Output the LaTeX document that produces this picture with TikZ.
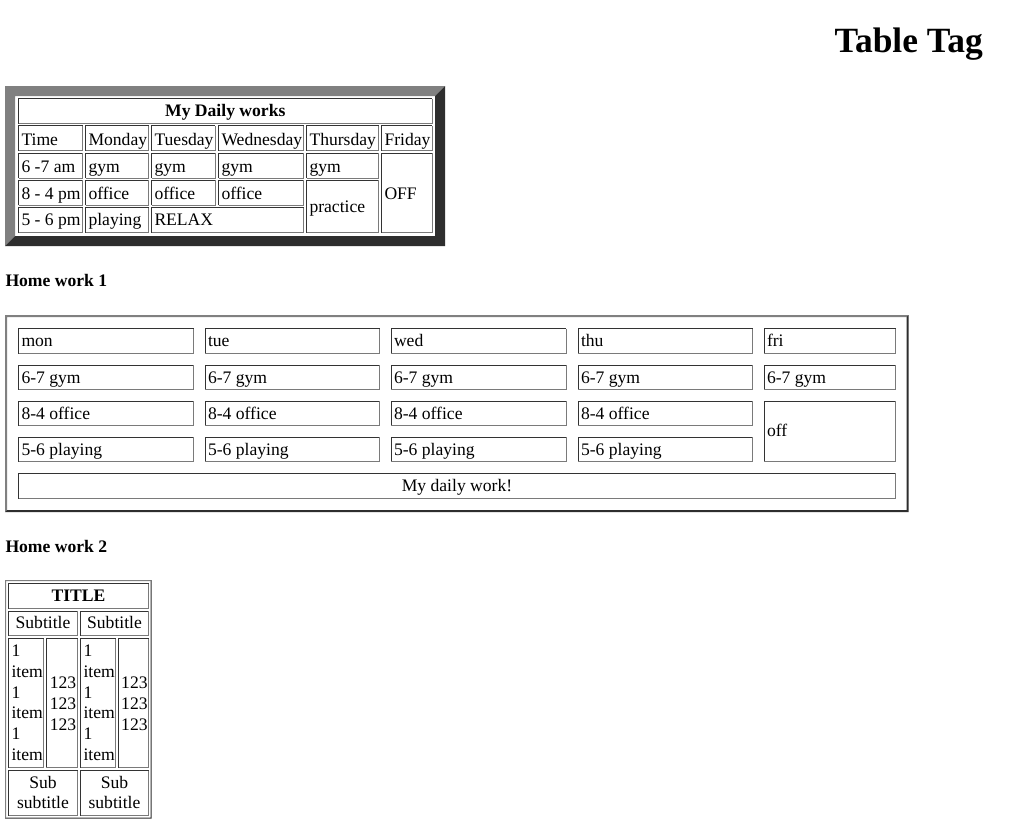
\documentclass[tikz,border=0pt]{standalone}
\usepackage{fontspec}
\setmainfont{Liberation Serif}
\definecolor{bdark}{HTML}{2E2E2E}
\definecolor{blight}{HTML}{808080}
\definecolor{cdark}{HTML}{333333}
\definecolor{clight}{HTML}{7A7A7A}
\newcommand\cellbox[4]{%
  \draw[cdark] (#1,#4) |- (#3,#2);
  \draw[clight] (#1,#4) -| (#3,#2);}
\newcommand\outsetbox[5]{%
  \fill[blight] (#1,#2) -- (#3,#2) -- ({#3-#5},{#2+#5}) -- ({#1+#5},{#2+#5}) -- ({#1+#5},{#4-#5}) -- (#1,#4) -- cycle;
  \fill[bdark] (#3,#2) -- (#3,#4) -- (#1,#4) -- ({#1+#5},{#4-#5}) -- ({#3-#5},{#4-#5}) -- ({#3-#5},{#2+#5}) -- cycle;}
\begin{document}
\begin{tikzpicture}[x=0.75pt,y=-0.75pt,line width=0.75pt,
  txt/.style={anchor=base west,inner sep=0pt,font=\fontsize{13.2}{15.5}\selectfont},
  ctxt/.style={txt,anchor=base},
  btxt/.style={ctxt,font=\fontsize{13.2}{15.5}\selectfont\bfseries},
  head/.style={txt,font=\fontsize{13.2}{15.5}\selectfont\bfseries}]
\useasboundingbox[fill=white] (0,0) rectangle (1033,828);

\node[anchor=base east,inner sep=0pt,font=\fontsize{26.6}{30}\selectfont\bfseries] (title) at (983.3,52.7) {Table Tag};

\outsetbox{5}{86}{445}{246}{10}
\cellbox{18.5}{98.5}{432}{123.5}
\node[btxt] (daily) at (225.3,116.7) {My Daily works};
\foreach \x/\xx/\dname [count=\i] in {18.5/82.5/Time,85.5/148.5/Monday,151.5/215/Tuesday,218.5/303.5/Wednesday,306.5/378.5/Thursday,381.5/432/Friday}{
  \cellbox{\x}{125.7}{\xx}{150.7}
  \node[txt] (day\i) at ({\x+2.5},145.7) {\dname};}
\foreach \x/\xx/\lbl [count=\i] in {18.5/82.5/6 -7 am,85.5/148.5/gym,151.5/215/gym,218.5/303.5/gym,306.5/378.5/gym}{
  \cellbox{\x}{153}{\xx}{178}
  \node[txt] (gym\i) at ({\x+2.5},172.3) {\lbl};}
\foreach \x/\xx/\lbl [count=\i] in {18.5/82.5/8 - 4 pm,85.5/148.5/office,151.5/215/office,218.5/303.5/office}{
  \cellbox{\x}{180.3}{\xx}{205.3}
  \node[txt] (office\i) at ({\x+2.5},199) {\lbl};}
\foreach \x/\xx/\lbl [count=\i] in {18.5/82.5/5 - 6 pm,85.5/148.5/playing,151.5/303.5/RELAX}{
  \cellbox{\x}{207.5}{\xx}{232.5}
  \node[txt] (play\i) at ({\x+2.5},225.7) {\lbl};}
\cellbox{306.5}{180.3}{378.5}{232.5}
\node[txt] (practice) at (309,212.3) {practice};
\cellbox{381.5}{153}{432}{232.5}
\node[txt] (OFF) at (384,199) {OFF};

\node[head] (hw1) at (5,286) {Home work 1};
\outsetbox{5}{315}{908.5}{512}{2}
\foreach \x/\xx/\dn [count=\i] in {18.5/193.5/mon,205/379.5/tue,391/566/wed,578/752.5/thu,764/895.5/fri}{
  \cellbox{\x}{328.5}{\xx}{353.5}
  \cellbox{\x}{365}{\xx}{389.5}
  \node[txt] (d\i) at ({\x+2.5},346.7) {\dn};
  \node[txt] (g\i) at ({\x+2.5},383.3) {6-7 gym};}
\foreach \x/\xx [count=\i] in {18.5/193.5,205/379.5,391/566,578/752.5}{
  \cellbox{\x}{401}{\xx}{425.5}
  \cellbox{\x}{437}{\xx}{461.5}
  \node[txt] (o\i) at ({\x+2.5},419.3) {8-4 office};
  \node[txt] (p\i) at ({\x+2.5},455.3) {5-6 playing};}
\cellbox{764}{401}{895.5}{461.5}
\node[txt] (off) at (766.5,436) {off};
\cellbox{18.5}{473}{895.5}{498.5}
\node[ctxt] (mywork) at (457,491.3) {My daily work!};

\node[head] (hw2) at (5,552) {Home work 2};
\outsetbox{5}{580}{151.5}{818.5}{1}
\cellbox{8.5}{583.5}{148.5}{608.5}
\node[btxt] (ttl) at (78.5,601.7) {TITLE};
\foreach \x/\xx/\cx [count=\i] in {8.5/77.5/43,80.5/148.5/114.5}{
  \cellbox{\x}{611}{\xx}{635.5}
  \cellbox{\x}{770.5}{\xx}{815.5}
  \node[ctxt] (sub\i) at (\cx,628.3) {Subtitle};
  \node[ctxt] (ss\i) at (\cx,788.3) {Sub};
  \node[ctxt] (sst\i) at (\cx,808.3) {subtitle};}
\foreach \x/\xx in {8.5/43.5,46/77.5,80.5/115.5,118.5/148.5}{
  \cellbox{\x}{638.5}{\xx}{767.5}}
\foreach \y/\word [count=\j] in {656.7/1,677.4/item,698.1/1,718.8/item,739.5/1,760.2/item}{
  \node[txt] (ia\j) at (11,\y) {\word};
  \node[txt] (ib\j) at (83,\y) {\word};}
\foreach \y [count=\j] in {688.3,709.7,730.3}{
  \node[txt] (na\j) at (49.3,\y) {123};
  \node[txt] (nb\j) at (120.7,\y) {123};}
\end{tikzpicture}
\end{document}
